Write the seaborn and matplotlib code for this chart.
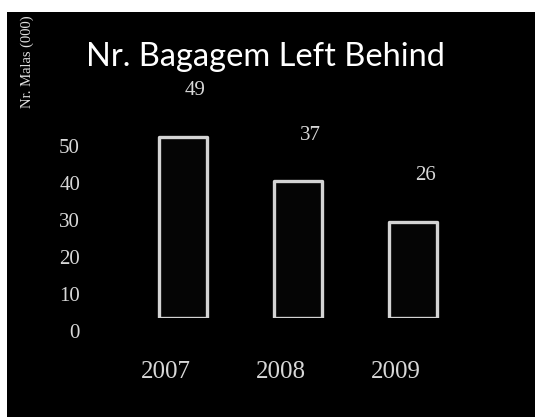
import matplotlib
matplotlib.use("Agg")
import matplotlib.pyplot as plt
from matplotlib.patches import Rectangle
from matplotlib.transforms import ScaledTranslation
import seaborn as sns
import pandas as pd

years = ["2007", "2008", "2009"]
bags = [49, 37, 26]
y_ticks = [0, 10, 20, 30, 40, 50]

df = pd.DataFrame({"year": years, "bags": bags})

sns.set_theme(style="dark")
plt.rcParams["font.family"] = ["Liberation Serif", "DejaVu Sans"]

fig = plt.figure(figsize=(5.35, 4.17), dpi=100)
fig.patch.set_facecolor("white")
# black slide panel, leaving a thin white margin on top and left
fig.add_artist(Rectangle((7 / 535, 0), 1 - 7 / 535, 1 - 12 / 417,
                         transform=fig.transFigure, facecolor="black",
                         edgecolor="none", zorder=0))

ax = fig.add_axes([0.1808, 0.2374, 0.7523, 0.6655])
ax.set_facecolor("black")

sns.barplot(data=df, x="year", y="bags", ax=ax, width=0.41,
            color="#050505", edgecolor="#d4d4d4", linewidth=2.4,
            saturation=1)
for p in ax.patches:
    p.set_joinstyle("round")

ax.set_xlim(-0.75, 2.75)
ax.set_ylim(0, 75)
ax.set_yticks(y_ticks)
ax.set_yticklabels([str(t) for t in y_ticks])
for s in ax.spines.values():
    s.set_visible(False)
ax.grid(False)
ax.set_xlabel("")
ax.set_ylabel("")

ax.tick_params(axis="y", length=0, pad=12, labelsize=15, labelcolor="#d8d8d8")
ax.tick_params(axis="x", length=0, pad=31, labelsize=18, labelcolor="#d8d8d8")

# perspective shift of the back-wall labels
for lab in ax.get_yticklabels():
    lab.set_transform(lab.get_transform() + ScaledTranslation(0, -0.13, fig.dpi_scale_trans))
for lab in ax.get_xticklabels():
    lab.set_transform(lab.get_transform() + ScaledTranslation(-0.17, 0, fig.dpi_scale_trans))

for i, v in enumerate(bags):
    ax.annotate(str(v), (i, v), xytext=(9, 33), textcoords="offset points",
                ha="center", va="center", fontsize=15, color="#d8d8d8",
                annotation_clip=False)

fig.text(265 / 535, 1 - 57 / 417, "Nr. Bagagem Left Behind", ha="center",
         va="center", fontsize=23.5, color="white", family=["Lato", "DejaVu Sans"])
fig.text(27 / 535, 1 - 62 / 417, "Nr. Malas (000)", rotation=90, ha="center",
         va="center", fontsize=10.5, color="#e0e0e0")

fig.savefig("out.png", dpi=100, facecolor=fig.get_facecolor())
